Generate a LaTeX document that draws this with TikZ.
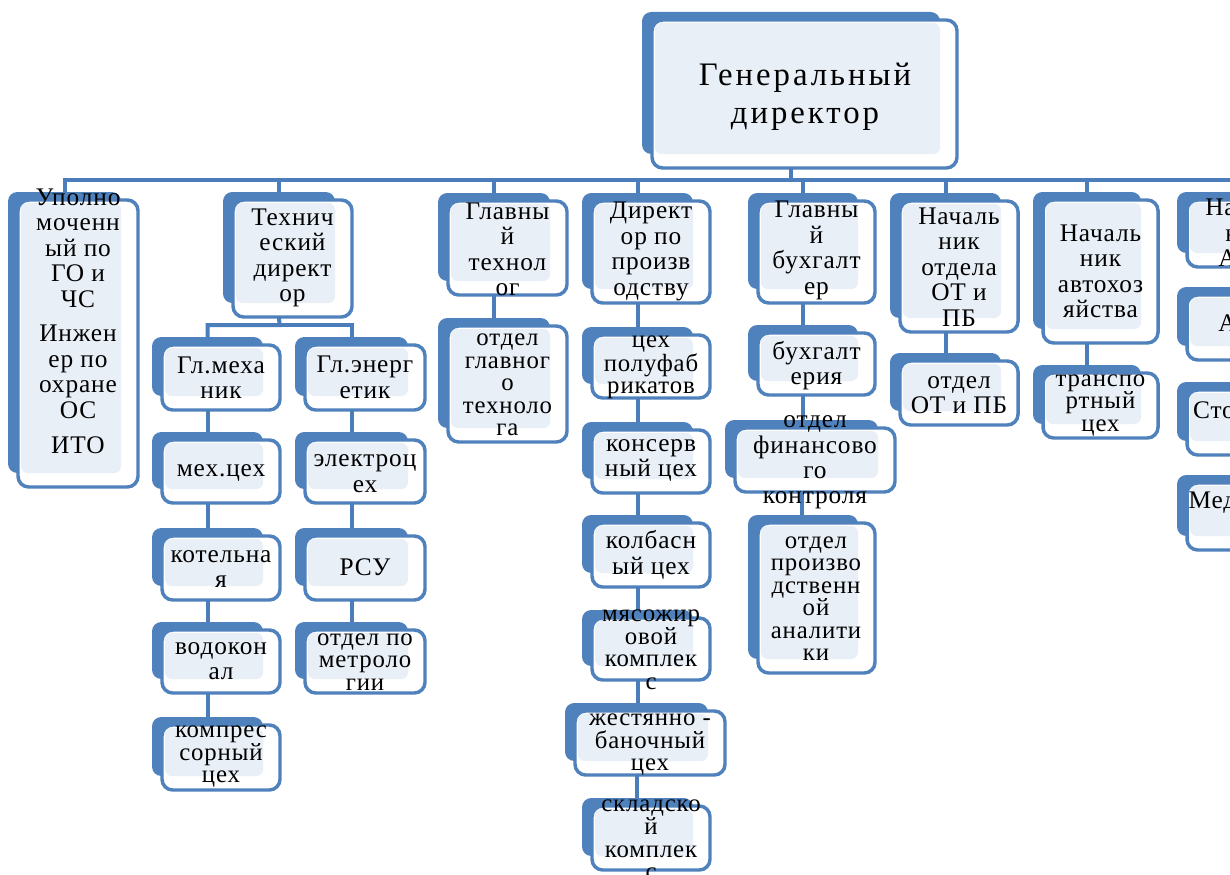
\documentclass[tikz,border=0pt]{standalone}
\usepackage{fontspec}
\setmainfont{Liberation Serif}[LetterSpace=9.0]
\newfontfamily\boxfont{Liberation Serif}[LetterSpace=3.5]
\definecolor{backblue}{HTML}{4F81BD}
\definecolor{lineblue}{HTML}{4A7DBA}
\definecolor{lightfill}{HTML}{E9EFF7}
\tikzset{
  backshape/.style={fill=backblue, rounded corners=7pt},
  frontshape/.style={draw=backblue, line width=2.6pt, fill=white, rounded corners=8pt},
  innershape/.style={fill=lightfill, rounded corners=5pt},
  conn/.style={draw=lineblue, line width=3pt},
  txt/.style={font=\boxfont\fontsize{19}{19.1}\selectfont, align=center, inner sep=0pt, text=black},
  txtt/.style={txt, font=\boxfont\fontsize{18.6}{16.9}\selectfont},
  title/.style={align=center, inner sep=0pt, text=black, font=\fontsize{24.6}{28.5}\selectfont}
}
\newcommand\orgbox[5]{%
  \fill[backshape] (#2,#3) rectangle (#4-17,#5-14);
  \path[frontshape] (#2+10,#3+8) rectangle (#4,#5);
  \fill[innershape] (#2+13,#3+11) rectangle (#4-17,#5-14);
  \coordinate (#1-t) at ({(#2+#4-17)/2},#3);
  \coordinate (#1-b) at ({(#2+#4-17)/2},#5);
}
\begin{document}
\begin{tikzpicture}[x=0.75pt,y=-0.75pt]
\useasboundingbox (0,0) rectangle (1230,874);
\clip (0,0) rectangle (1230,874);
\fill[white] (0,0) rectangle (1230,874);
% boxes
\orgbox{gd}{642}{12}{957}{168}
\orgbox{ud}{8}{192}{138}{487}
\orgbox{td}{223}{192}{352}{317}
\orgbox{gm}{152}{337}{280}{410}
\orgbox{ge}{295}{337}{425}{410}
\orgbox{mc}{152}{432}{280}{503}
\orgbox{ec}{295}{432}{425}{503}
\orgbox{kt}{152}{528}{280}{600}
\orgbox{rsu}{295}{528}{425}{600}
\orgbox{vk}{152}{622}{280}{693}
\orgbox{met}{295}{622}{425}{693}
\orgbox{kc}{152}{717}{280}{790}
\orgbox{gt}{438}{193}{567}{295}
\orgbox{ogt}{438}{318}{567}{442}
\orgbox{dp}{582}{193}{710}{303}
\orgbox{cp}{582}{327}{710}{398}
\orgbox{kn}{582}{422}{710}{493}
\orgbox{kb}{582}{515}{710}{587}
\orgbox{mz}{582}{610}{710}{680}
\orgbox{zb}{565}{703}{725}{775}
\orgbox{sk}{582}{798}{710}{870}
\orgbox{gb}{748}{193}{875}{303}
\orgbox{bh}{748}{325}{875}{395}
\orgbox{fk}{725}{420}{895}{492}
\orgbox{pa}{748}{515}{875}{673}
\orgbox{ot}{890}{193}{1018}{332}
\orgbox{oto}{890}{353}{1018}{425}
\orgbox{ah}{1033}{192}{1158}{343}
\orgbox{tc}{1033}{365}{1158}{438}
\orgbox{ra}{1177}{192}{1305}{267}
\orgbox{rb}{1177}{287}{1305}{360}
\orgbox{rc}{1177}{382}{1305}{455}
\orgbox{rd}{1177}{475}{1305}{550}
% connectors
\coordinate (gdbus) at (791,180);
\draw[conn] (gd-b) -- (gdbus);
\foreach \c in {ud,td,gt,dp,gb,ot,ah,ra} {\draw[conn] (gdbus) -| (\c-t);}
\coordinate (tdbus) at (279.5,325);
\draw[conn] (td-b) -- (tdbus) -| (gm-t);
\draw[conn] (tdbus) -| (ge-t);
\foreach \a/\b in {gm/mc,mc/kt,kt/vk,vk/kc,ge/ec,ec/rsu,rsu/met,gt/ogt,dp/cp,cp/kn,kn/kb,kb/mz,mz/zb,zb/sk,gb/bh,bh/fk,fk/pa,ot/oto,ah/tc,ra/rb,rb/rc,rc/rd}
  {\draw[conn] (\a-b) -- (\a-b |- \b-t);}
% texts
\node[title] (gdt) at (805,97) {Генеральный\\директор};
\node[txt] (udt) at (78,321) {Уполно\\моченн\\ый по\\ГО и\\ЧС\\[7pt]Инжен\\ер по\\охране\\ОС\\[7pt]ИТО};
\node[txt] (tdt) at (292.5,258) {Технич\\еский\\директ\\ор};
\node[txt] (gmt) at (221,377.5) {Гл.меха\\ник};
\node[txt] (get) at (365,377.5) {Гл.энерг\\етик};
\node[txt] (mct) at (221,473) {мех.цех};
\node[txt] (ect) at (365,473.5) {электроц\\ех};
\node[txt] (ktt) at (221,569) {котельна\\я};
\node[txt] (rsut) at (365,567) {РСУ};
\node[txt] (vkt) at (221,661) {водокон\\ал};
\node[txtt] (mett) at (365,662) {отдел по\\метроло\\гии};
\node[txtt] (kct) at (221,757) {компрес\\сорный\\цех};
\node[txt] (gtt) at (507.5,249.5) {Главны\\й\\технол\\ог};
\node[txtt] (ogtt) at (507.5,385) {отдел\\главног\\о\\техноло\\га};
\node[txt] (dpt) at (651,251.5) {Директ\\ор по\\произв\\одству};
\node[txtt] (cpt) at (651,367.5) {цех\\полуфаб\\рикатов};
\node[txt] (knt) at (651,460.5) {консерв\\ный цех};
\node[txt] (kbt) at (651,555) {колбасн\\ый цех};
\node[txtt] (mzt) at (651,650) {мясожир\\овой\\комплек\\с};
\node[txtt] (zbt) at (650,745) {жестянно -\\баночный\\цех};
\node[txtt] (skt) at (651,840) {складско\\й\\комплек\\с};
\node[txt] (gbt) at (816.5,250.5) {Главны\\й\\бухгалт\\ер};
\node[txt] (bht) at (816.5,365.5) {бухгалт\\ерия};
\node[txt] (fkt) at (815,462.5) {отдел\\финансово\\го\\контроля};
\node[txtt] (pat) at (816,598.5) {отдел\\произво\\дственн\\ой\\аналити\\ки};
\node[txt] (ott) at (959,267) {Началь\\ник\\отдела\\ОТ и\\ПБ};
\node[txt] (otot) at (959,395) {отдел\\ОТ и ПБ};
\node[txt] (aht) at (1100.5,271.5) {Началь\\ник\\автохоз\\яйства};
\node[txtt] (tct) at (1100.5,405.5) {транспо\\ртный\\цех};
\node[txt] (rat) at (1246,233) {Началь\\ник\\АХО};
\node[txt] (rbt) at (1246,323) {АХО};
\node[txt] (rct) at (1246,410) {Столовая};
\node[txt] (rdt) at (1246,503) {Медпункт};
\end{tikzpicture}
\end{document}
